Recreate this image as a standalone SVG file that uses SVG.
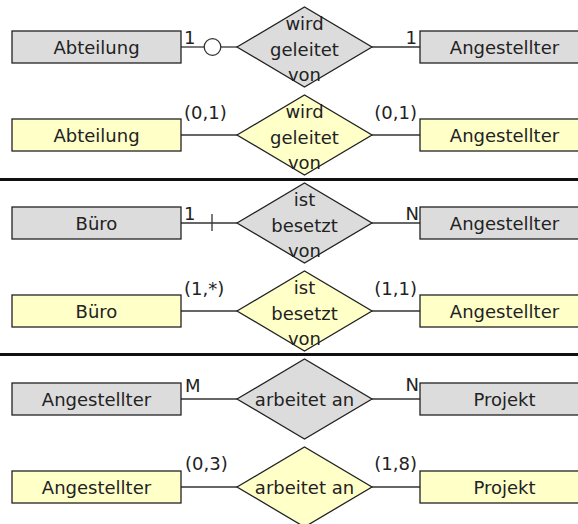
<svg xmlns="http://www.w3.org/2000/svg" width="578" height="524" viewBox="0 0 578 524">
<style>
text{font-family:"DejaVu Sans","Liberation Sans",sans-serif;font-size:18px;fill:#222}
.c{text-anchor:middle}
.e{text-anchor:end}
.g{fill:#dcdcdc;stroke:#222;stroke-width:1.3}
.y{fill:#ffffc8;stroke:#222;stroke-width:1.3}
.ln{stroke:#333;stroke-width:1.3;fill:none}
.sep{stroke:#111;stroke-width:3}
</style>
<rect width="578" height="524" fill="#fff"/>
<g id="connectors">
<line class="ln" x1="181" y1="47" x2="204" y2="47"/>
<circle class="ln" cx="212.5" cy="47" r="8.3" fill="#fff"/>
<line class="ln" x1="221" y1="47" x2="237" y2="47"/>
<line class="ln" x1="372" y1="47" x2="420" y2="47"/>
<line class="ln" x1="181" y1="135" x2="237" y2="135"/>
<line class="ln" x1="372" y1="135" x2="420" y2="135"/>
<line class="ln" x1="181" y1="223" x2="237" y2="223"/>
<line class="ln" x1="212" y1="214" x2="212" y2="231"/>
<line class="ln" x1="372" y1="223" x2="420" y2="223"/>
<line class="ln" x1="181" y1="311" x2="237" y2="311"/>
<line class="ln" x1="372" y1="311" x2="420" y2="311"/>
<line class="ln" x1="181" y1="399" x2="237" y2="399"/>
<line class="ln" x1="372" y1="399" x2="420" y2="399"/>
<line class="ln" x1="181" y1="487" x2="237" y2="487"/>
<line class="ln" x1="372" y1="487" x2="420" y2="487"/>
<text x="184" y="44">1</text>
<text class="e" x="417" y="44">1</text>
<text x="184" y="119">(0,1)</text>
<text class="e" x="417" y="119">(0,1)</text>
<text x="184" y="220">1</text>
<text class="e" x="419" y="220">N</text>
<text x="184" y="295">(1,*)</text>
<text class="e" x="417" y="295">(1,1)</text>
<text x="185" y="392">M</text>
<text class="e" x="419" y="391">N</text>
<text x="185" y="470">(0,3)</text>
<text class="e" x="417" y="470">(1,8)</text>
</g>
<g id="separators">
<line class="sep" x1="0" y1="179.5" x2="578" y2="179.5"/>
<line class="sep" x1="0" y1="354.5" x2="578" y2="354.5"/>
</g>
<g id="abteilung1"><rect class="g" x="12" y="31" width="169" height="32"/><text class="c" x="96.5" y="54">Abteilung</text></g>
<g id="rel1"><polygon class="g" points="237,47 304.5,7 372,47 304.5,87"/><text class="c" x="304.5" y="30">wird</text><text class="c" x="304.5" y="55.5">geleitet</text><text class="c" x="304.5" y="81">von</text></g>
<g id="angestellter1"><rect class="g" x="420" y="31" width="169" height="32"/><text class="c" x="504.5" y="54">Angestellter</text></g>
<g id="abteilung2"><rect class="y" x="12" y="119" width="169" height="32"/><text class="c" x="96.5" y="142">Abteilung</text></g>
<g id="rel2"><polygon class="y" points="237,135 304.5,95 372,135 304.5,175"/><text class="c" x="304.5" y="118">wird</text><text class="c" x="304.5" y="143.5">geleitet</text><text class="c" x="304.5" y="169">von</text></g>
<g id="angestellter2"><rect class="y" x="420" y="119" width="169" height="32"/><text class="c" x="504.5" y="142">Angestellter</text></g>
<g id="buero1"><rect class="g" x="12" y="207" width="169" height="32"/><text class="c" x="96.5" y="230">Büro</text></g>
<g id="rel3"><polygon class="g" points="237,223 304.5,183 372,223 304.5,263"/><text class="c" x="304.5" y="206">ist</text><text class="c" x="304.5" y="231.5">besetzt</text><text class="c" x="304.5" y="257">von</text></g>
<g id="angestellter3"><rect class="g" x="420" y="207" width="169" height="32"/><text class="c" x="504.5" y="230">Angestellter</text></g>
<g id="buero2"><rect class="y" x="12" y="295" width="169" height="32"/><text class="c" x="96.5" y="318">Büro</text></g>
<g id="rel4"><polygon class="y" points="237,311 304.5,271 372,311 304.5,351"/><text class="c" x="304.5" y="294">ist</text><text class="c" x="304.5" y="319.5">besetzt</text><text class="c" x="304.5" y="345">von</text></g>
<g id="angestellter4"><rect class="y" x="420" y="295" width="169" height="32"/><text class="c" x="504.5" y="318">Angestellter</text></g>
<g id="angestellter5"><rect class="g" x="12" y="383" width="169" height="32"/><text class="c" x="96.5" y="406">Angestellter</text></g>
<g id="rel5"><polygon class="g" points="237,399 304.5,359 372,399 304.5,439"/><text class="c" x="304.5" y="405.5">arbeitet an</text></g>
<g id="projekt1"><rect class="g" x="420" y="383" width="169" height="32"/><text class="c" x="504.5" y="406">Projekt</text></g>
<g id="angestellter6"><rect class="y" x="12" y="471" width="169" height="32"/><text class="c" x="96.5" y="494">Angestellter</text></g>
<g id="rel6"><polygon class="y" points="237,487 304.5,447 372,487 304.5,527"/><text class="c" x="304.5" y="493.5">arbeitet an</text></g>
<g id="projekt2"><rect class="y" x="420" y="471" width="169" height="32"/><text class="c" x="504.5" y="494">Projekt</text></g>
</svg>
